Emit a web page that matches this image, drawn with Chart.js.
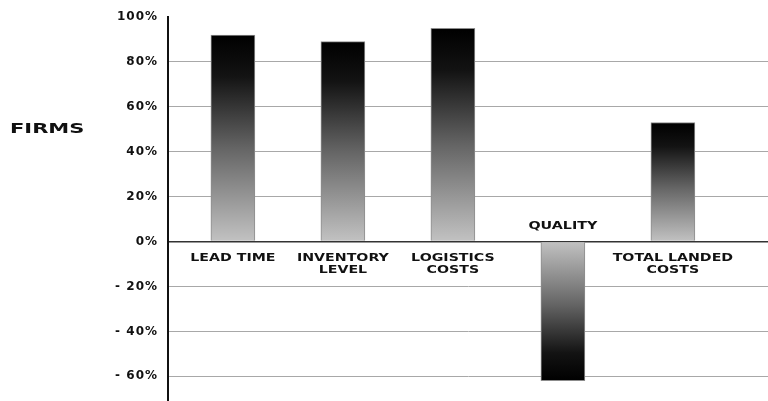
<!DOCTYPE html>
<html>
<head>
<meta charset="utf-8">
<title>Firms</title>
<script src="https://cdn.jsdelivr.net/npm/chart.js@4.4.1/dist/chart.umd.min.js"></script>
<style>
  html, body { margin: 0; padding: 0; background: #ffffff; }
  #chart-firms { display: block; }
</style>
</head>
<body>
<canvas id="chart-firms" width="768" height="401"></canvas>
<script>
// values
const categoryLabels = [
  ['LEAD TIME'],
  ['INVENTORY', 'LEVEL'],
  ['LOGISTICS', 'COSTS'],
  ['QUALITY'],
  ['TOTAL LANDED', 'COSTS'],
];
const firmShares = [92, 89, 95, -62, 53];
const yTickValues = [100, 80, 60, 40, 20, 0, -20, -40, -60];
const yTickLabels = ['100%', '80%', '60%', '40%', '20%', '0%', '- 20%', '- 40%', '- 60%'];
const axisTitle = 'FIRMS';

const TEXT_COLOR = '#111111';
const BOLD_FONT = 'bold 11px "DejaVu Sans", sans-serif';

function drawWideText(ctx, text, x, y, stretch, align) {
  ctx.save();
  ctx.translate(x, y);
  ctx.scale(stretch, 1);
  ctx.textAlign = align;
  ctx.textBaseline = 'middle';
  ctx.fillText(text, 0, 0);
  ctx.restore();
}

function barGradient(context) {
  const chart = context.chart;
  const yScale = chart.scales.y;
  if (!chart.chartArea || !yScale) {
    return '#777777';
  }
  const value = firmShares[context.dataIndex];
  const zero = yScale.getPixelForValue(0);
  const end = yScale.getPixelForValue(value);
  const gradient = chart.ctx.createLinearGradient(0, zero, 0, end);
  gradient.addColorStop(0, '#c2c2c2');
  gradient.addColorStop(0.45, '#656565');
  gradient.addColorStop(0.8, '#131313');
  gradient.addColorStop(1, '#000000');
  return gradient;
}

const spacedTicks = {
  id: 'spacedTicks',
  beforeDraw(chart) {
    chart.ctx.letterSpacing = '1px';
  },
  afterDraw(chart) {
    chart.ctx.letterSpacing = '0px';
  },
};

const categoryText = {
  id: 'categoryText',
  afterDraw(chart) {
    const ctx = chart.ctx;
    const xScale = chart.scales.x;
    const yScale = chart.scales.y;
    const zero = yScale.getPixelForValue(0);

    ctx.save();
    ctx.fillStyle = TEXT_COLOR;
    ctx.font = BOLD_FONT;
    categoryLabels.forEach((lines, index) => {
      const x = xScale.getPixelForValue(index);
      if (firmShares[index] < 0) {
        drawWideText(ctx, lines[0], x, zero - 15, 1.3, 'center');
        return;
      }
      lines.forEach((line, lineIndex) => {
        drawWideText(ctx, line, x, zero + 17 + lineIndex * 12, 1.29, 'center');
      });
    });

    ctx.font = 'bold 14px "DejaVu Sans", sans-serif';
    drawWideText(ctx, axisTitle, 10, 129, 1.5, 'left');
    ctx.restore();
  },
};

new Chart(document.getElementById('chart-firms'), {
  type: 'bar',
  data: {
    datasets: [{
      data: firmShares.map((value, index) => ({ x: index, y: value })),
      backgroundColor: barGradient,
      borderColor: '#8c8c8c',
      borderWidth: 1,
      barThickness: 44,
    }],
  },
  options: {
    responsive: false,
    animation: false,
    devicePixelRatio: 1,
    layout: { padding: { left: 108, top: 17, right: 0, bottom: 0 } },
    plugins: {
      legend: { display: false },
      tooltip: { enabled: false },
    },
    scales: {
      x: {
        type: 'linear',
        display: false,
        offset: false,
        grace: 0,
        min: -0.59,
        max: -0.59 + 600 / 110,
      },
      y: {
        min: -71,
        max: 100,
        afterFit(scale) {
          scale.width = 60;
          scale.paddingTop = 0;
          scale.paddingBottom = 0;
        },
        afterBuildTicks(scale) {
          scale.ticks = yTickValues.map((value) => ({ value }));
        },
        ticks: {
          color: TEXT_COLOR,
          padding: 10,
          font: { family: '"DejaVu Sans", sans-serif', size: 12, weight: 'bold' },
          callback: (value) => yTickLabels[yTickValues.indexOf(value)],
        },
        border: { display: true, color: '#111111', width: 2 },
        grid: {
          drawTicks: false,
          color: (ctx) => {
            if (ctx.tick.value === 100) return 'rgba(0,0,0,0)';
            if (ctx.tick.value === 0) return '#333333';
            return '#a8a8a8';
          },
          lineWidth: (ctx) => (ctx.tick.value === 0 ? 1.5 : 1),
        },
      },
    },
  },
  plugins: [spacedTicks, categoryText],
});
</script>
</body>
</html>
